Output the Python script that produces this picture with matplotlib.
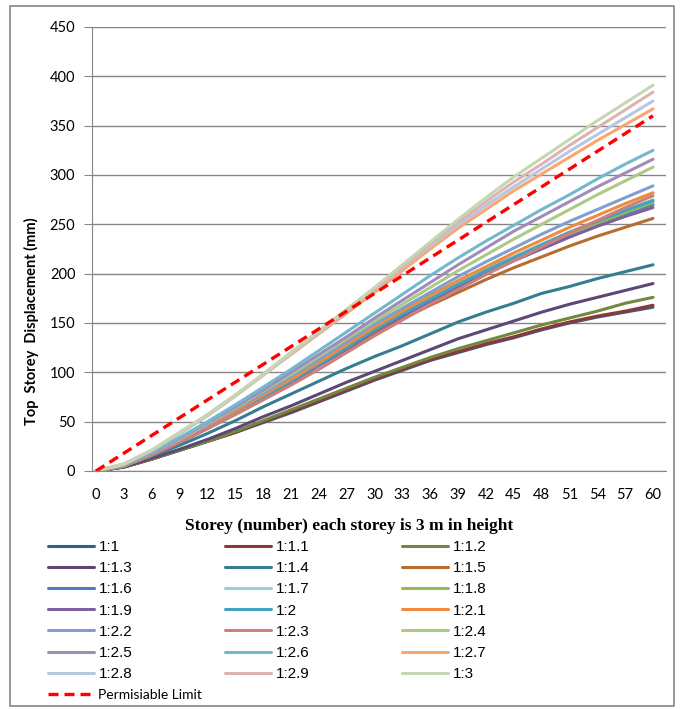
import numpy as np
import matplotlib.pyplot as plt
from matplotlib.patches import Rectangle

storey = list(range(0, 61, 3))

# top storey displacement (mm) read at every 3rd storey
d_1_1 = [0, 4, 12, 21, 30, 39, 49, 59, 70, 81, 92, 102, 112, 120, 128, 135, 143, 150, 156, 161, 166]
d_1_1_1 = [0, 4, 12, 21, 30, 39, 50, 60, 71, 82, 93, 103, 113, 121, 129, 136, 144, 151, 157, 162, 168]
d_1_1_2 = [0, 4, 12, 21, 30, 40, 51, 62, 73, 84, 95, 105, 115, 124, 132, 140, 148, 155, 162, 170, 176]
d_1_1_3 = [0, 4, 13, 22, 32, 43, 55, 66, 78, 90, 101, 112, 123, 134, 143, 152, 161, 169, 176, 183, 190]
d_1_1_4 = [0, 5, 15, 26, 38, 51, 65, 78, 91, 104, 116, 127, 139, 151, 161, 170, 180, 187, 195, 202, 209]
d_1_1_5 = [0, 5, 16, 29, 43, 58, 74, 90, 107, 123, 140, 154, 168, 181, 194, 206, 217, 228, 238, 247, 256]
d_1_1_6 = [0, 5, 17, 31, 46, 61, 77, 94, 111, 129, 148, 163, 178, 192, 205, 217, 229, 240, 251, 261, 270]
d_1_1_7 = [0, 5, 17, 31, 46, 61, 77, 94, 111, 129, 147, 162, 177, 191, 204, 217, 230, 242, 253, 264, 275]
d_1_1_8 = [0, 5, 17, 30, 45, 60, 76, 92, 109, 127, 145, 160, 175, 189, 203, 216, 228, 240, 251, 262, 272]
d_1_1_9 = [0, 5, 16, 29, 43, 58, 74, 90, 107, 124, 142, 157, 172, 186, 200, 213, 225, 237, 248, 258, 267]
d_1_2 = [0, 5, 17, 30, 44, 59, 75, 91, 108, 125, 143, 159, 174, 189, 203, 216, 229, 242, 253, 264, 274]
d_1_2_1 = [0, 5, 17, 31, 46, 61, 77, 93, 110, 128, 146, 162, 178, 193, 207, 221, 234, 247, 259, 271, 282]
d_1_2_2 = [0, 6, 18, 32, 47, 63, 79, 96, 113, 131, 149, 165, 181, 197, 212, 226, 240, 253, 265, 277, 289]
d_1_2_3 = [0, 5, 16, 29, 43, 57, 72, 87, 103, 120, 137, 153, 169, 184, 199, 213, 227, 241, 254, 267, 279]
d_1_2_4 = [0, 6, 18, 32, 48, 64, 81, 98, 116, 134, 152, 169, 186, 203, 219, 235, 250, 265, 280, 294, 308]
d_1_2_5 = [0, 6, 18, 33, 49, 65, 82, 100, 118, 136, 155, 173, 191, 209, 226, 243, 258, 273, 288, 302, 316]
d_1_2_6 = [0, 6, 19, 34, 50, 67, 85, 103, 122, 141, 160, 179, 198, 216, 233, 249, 265, 280, 296, 311, 325]
d_1_2_7 = [0, 7, 21, 38, 56, 76, 97, 118, 139, 160, 181, 203, 225, 246, 265, 284, 301, 318, 335, 351, 367]
d_1_2_8 = [0, 7, 21, 38, 56, 76, 97, 119, 140, 162, 184, 206, 228, 249, 269, 288, 306, 324, 341, 358, 375]
d_1_2_9 = [0, 7, 21, 39, 57, 77, 98, 120, 141, 163, 185, 207, 230, 252, 273, 293, 311, 330, 348, 366, 384]
d_1_3 = [0, 7, 21, 39, 57, 77, 98, 120, 142, 164, 186, 209, 232, 255, 277, 298, 317, 336, 355, 373, 391]

limit_x = [0, 60]
limit_y = [0, 360]

labels = ['1:1', '1:1.1', '1:1.2', '1:1.3', '1:1.4', '1:1.5', '1:1.6', '1:1.7',
          '1:1.8', '1:1.9', '1:2', '1:2.1', '1:2.2', '1:2.3', '1:2.4', '1:2.5',
          '1:2.6', '1:2.7', '1:2.8', '1:2.9', '1:3']
series = [d_1_1, d_1_1_1, d_1_1_2, d_1_1_3, d_1_1_4, d_1_1_5, d_1_1_6, d_1_1_7,
          d_1_1_8, d_1_1_9, d_1_2, d_1_2_1, d_1_2_2, d_1_2_3, d_1_2_4, d_1_2_5,
          d_1_2_6, d_1_2_7, d_1_2_8, d_1_2_9, d_1_3]
colors = ['#385D8A', '#8C3836', '#71893F', '#5C4776', '#357D91', '#B66D31',
          '#4A7EBB', '#98CFE0', '#98B954', '#7D5FA0', '#41A3BF', '#F08A3C',
          '#7F9FCF', '#CD7F7E', '#ADC986', '#A08CBB', '#74B8D0', '#F9A76E',
          '#B7C7E2', '#DDB3B2', '#C5D6B0']

fig = plt.figure(figsize=(6.84, 7.09), dpi=100)
ax = fig.add_axes([92/684, 1-471/709, (666-92)/684, (471-27)/709])

handles = []
for y, c, lab in zip(series, colors, labels):
    h, = ax.plot(storey, y, color=c, lw=2.2, label=lab, solid_capstyle='round')
    handles.append(h)
hl, = ax.plot(limit_x, limit_y, color='#FF0000', lw=2.4, ls=(0, (3, 1.8)),
              label='Permisiable Limit')

gray = '#868686'
ax.set_xlim(-0.43, 61.4)
ax.set_ylim(0, 450)
ax.set_yticks(range(0, 451, 50))
ax.set_xticks(range(0, 61, 3))
ax.grid(axis='y', color=gray, lw=1)
ax.set_axisbelow(True)
for s in ['top', 'right']:
    ax.spines[s].set_visible(False)
for s in ['left', 'bottom']:
    ax.spines[s].set_color(gray)
ax.tick_params(axis='y', length=6, color=gray, labelsize=10.5, pad=6)
ax.tick_params(axis='x', length=0, labelsize=10.5, pad=12)
for t in ax.get_xticklabels() + ax.get_yticklabels():
    t.set_fontfamily('Lato')

fig.text(31/684, 1-321/709, 'Top  Storey  Displacement (mm)', rotation=90,
         ha='center', va='center', fontsize=10.5, fontweight='bold', family='Lato')
fig.text(349/684, 1-526/709, 'Storey (number) each storey is 3 m in height',
         ha='center', va='center', fontsize=12.5, fontweight='bold',
         family='Liberation Serif')

# legend in rows of three, like the original
cols = [[0, 3, 6, 9, 12, 15, 18], [1, 4, 7, 10, 13, 16, 19], [2, 5, 8, 11, 14, 17, 20]]
xs = [48, 225, 402]
for k, (idx, x0) in enumerate(zip(cols, xs)):
    hs = [handles[i] for i in idx]
    if k == 0:
        hs = hs + [hl]
    leg = fig.legend(handles=hs, loc='upper left', bbox_to_anchor=(x0/684, 1-540/709),
                     frameon=False, borderpad=0, borderaxespad=0, handlelength=3.0,
                     handletextpad=0.3, labelspacing=0.47,
                     prop={'family': 'Liberation Sans', 'size': 11})
    for t in leg.get_texts():
        if t.get_text() == 'Permisiable Limit':
            t.set_fontfamily('Lato')
            t.set_fontsize(10)

fig.add_artist(Rectangle((10/684, 3/709), 664/684, 700/709, transform=fig.transFigure,
                         fill=False, edgecolor=gray, lw=1.2))

fig.savefig('out.png', dpi=100)
